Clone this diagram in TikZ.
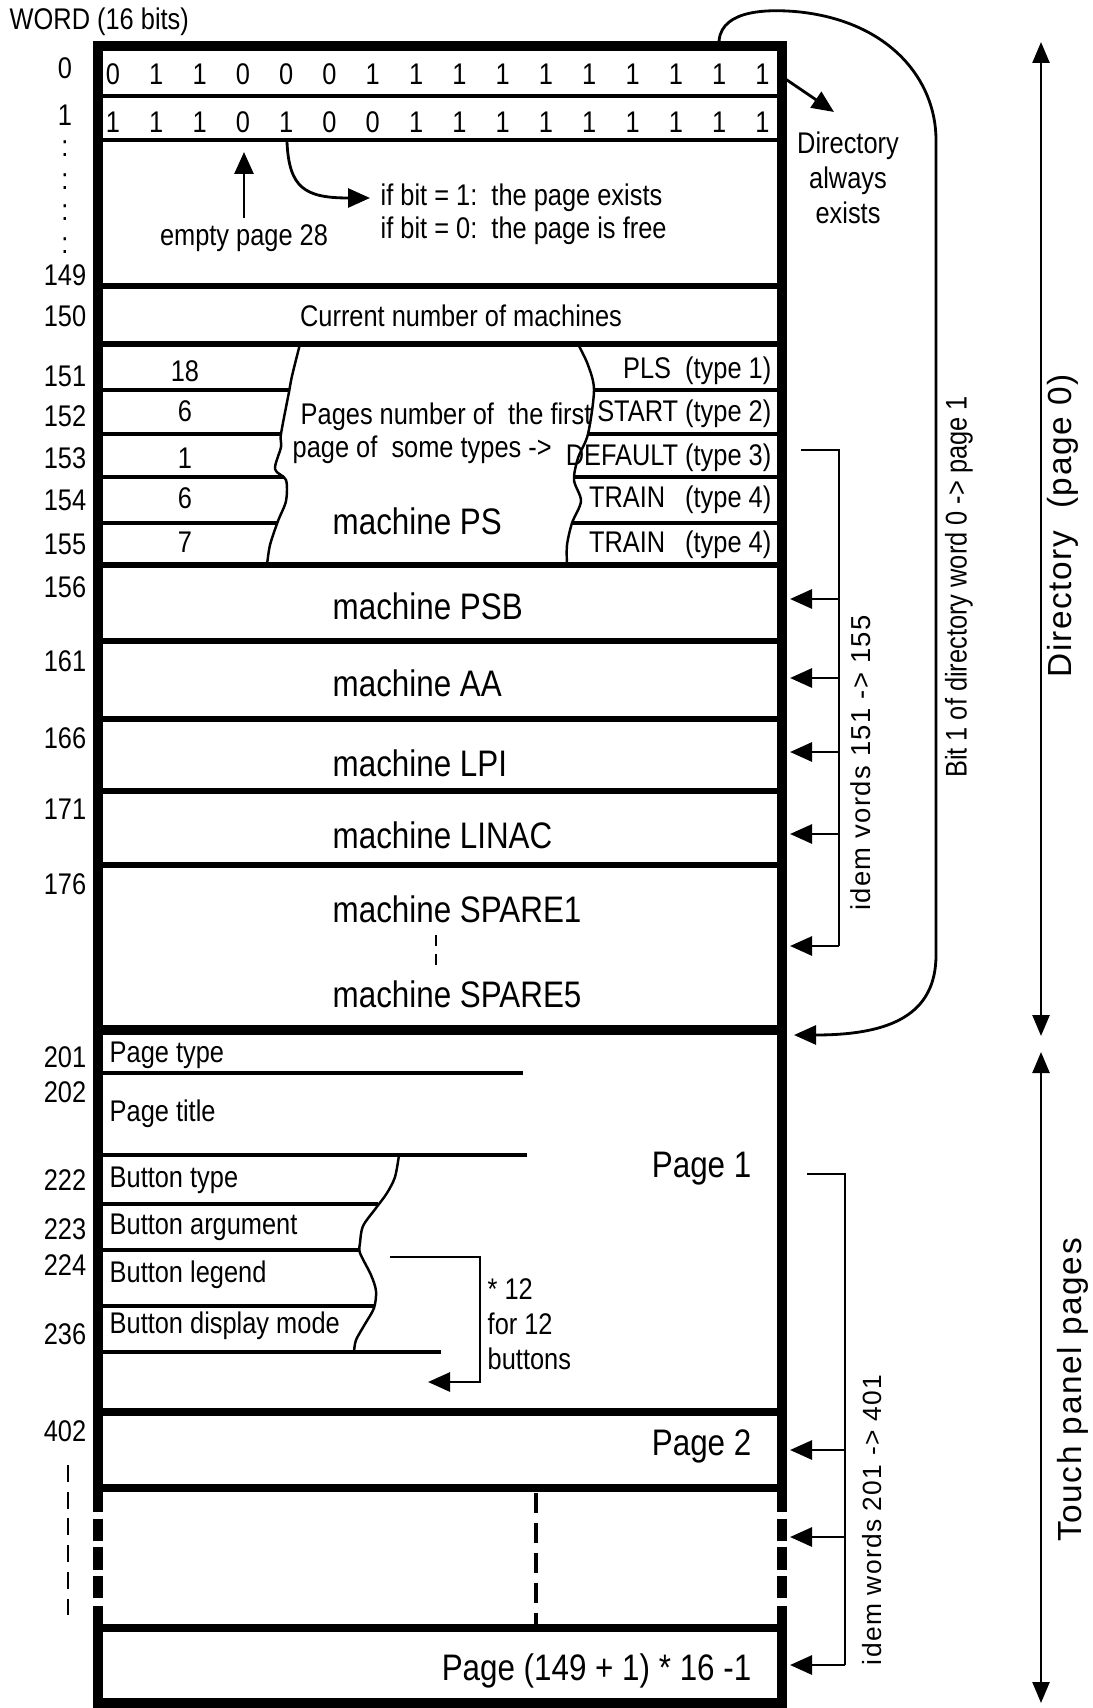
\documentclass[tikz,border=0pt]{standalone}
\usepackage{fontspec}
\setmainfont{Liberation Sans}[FakeStretch=0.85]
\newfontfamily\spacedfont{Liberation Sans}[LetterSpace=5]
\usetikzlibrary{arrows.meta, positioning, calc}

\begin{document}
\begin{tikzpicture}[x=0.1mm, y=-0.1mm, font=\fontsize{8.5}{10}\selectfont]
  \tikzstyle{outline} = [line width=2.6pt]
  \tikzstyle{rowline} = [line width=1.6pt]
  \tikzstyle{pageline} = [line width=2.4pt]
  \tikzstyle{wordline} = [line width=0.9pt]
  \tikzstyle{fieldline} = [line width=1.3pt]
  \tikzstyle{celltext} = [inner sep=0pt]
  \tikzstyle{bigtext} = [inner sep=0pt, font=\fontsize{10.5}{12}\selectfont]
  \tikzstyle{sidetext} = [inner sep=0pt, rotate=90]
  \tikzstyle{tornedge} = [line width=0.7pt]
  \tikzstyle{bracket} = [line width=0.8pt]
  \tikzstyle{arrow} = [line width=0.8pt, -{Triangle[length=2.2mm, width=1.9mm]}]
  \tikzstyle{spanarrow} = [line width=0.7pt, {Triangle[length=2.1mm, width=1.7mm]}-{Triangle[length=2.1mm, width=1.7mm]}]

  \useasboundingbox (0,0) rectangle (1092,1708);

  \node[celltext, anchor=west] (wordhdr) at (9,22) {WORD (16 bits)};

  % outer frame, broken in the dashed part
  \draw[outline] (98,1512) -- (98,46) -- (782,46) -- (782,1512);
  \draw[outline] (98,1606) -- (98,1703) -- (782,1703) -- (782,1606);
  \draw[outline, dash pattern=on 6.3pt off 1.8pt] (98,1519) -- (98,1600);
  \draw[outline, dash pattern=on 6.3pt off 1.8pt] (782,1519) -- (782,1600);

  % separators
  \draw[wordline] (98,96) -- (782,96);
  \draw[wordline] (98,140) -- (782,140);
  \foreach \y in {286,344,565,641,719,791,865}
    \draw[rowline] (98,\y) -- (782,\y);
  \draw[line width=3pt] (98,1030) -- (782,1030);
  \foreach \y in {1412,1488,1628}
    \draw[pageline] (98,\y) -- (782,\y);
  \draw[line width=1pt, dash pattern=on 5.7pt off 2.8pt] (536,1493) -- (536,1624);

  % word numbers
  \foreach \n/\y in {0/68,1/115,149/275,150/316,151/376,152/416,153/458,154/500,155/544,156/587,161/661,166/738,171/809,176/884,201/1057,202/1092,222/1180,223/1229,224/1265,236/1334,402/1431}
    \node[celltext] (w\n) at (65,\y) {\n};
  \foreach \y [count=\k] in {149,182,213,246}
    \node[celltext] (dots\k) at (65,\y) {:};
  \draw[line width=0.8pt, dash pattern=on 4.8pt off 2.8pt] (68,1465) -- (68,1622);

  % directory bits
  \foreach \b [count=\i from 0] in {0,1,1,0,0,0,1,1,1,1,1,1,1,1,1,1}
    \node[celltext] (b0\i) at ({113+43.3*\i},74) {\b};
  \foreach \b [count=\i from 0] in {1,1,1,0,1,0,0,1,1,1,1,1,1,1,1,1}
    \node[celltext] (b1\i) at ({113+43.3*\i},122) {\b};

  \node[celltext] (empty) at (244,238) {empty page 28};
  \coordinate (bit13) at (244,152);
  \draw[arrow] ([yshift=0.6mm]empty.north) -- (bit13);

  \coordinate (bit14) at (287,142);
  \node[celltext, anchor=west] (ifone) at (380,198) {if bit = 1:\ \ the page exists};
  \node[celltext, anchor=west] (ifzero) at (380,231) {if bit = 0:\ \ the page is free};
  \draw[arrow] (bit14) .. controls (289,188) and (305,198) .. ([xshift=-1mm]ifone.west);

  \coordinate (w0end) at (784,78);
  \coordinate (dirtip) at (834,112);
  \node[celltext, align=center] (dirtxt) at (848,178) {Directory\\always\\exists};
  \draw[arrow] (w0end) -- (dirtip);

  % bit 1 of word 0 loops to page 1
  \coordinate (bitdir) at (719,46);
  \coordinate (page1in) at (794,1035);
  \draw[arrow] (bitdir) .. controls (717,12) and (760,8) .. (800,12)
    .. controls (890,22) and (936,80) .. (936,140) -- (936,955)
    .. controls (936,1015) and (890,1035) .. (page1in);
  \node[sidetext] (bitlbl) at (959,587) {Bit 1 of directory word 0 -> page 1};

  % extents
  \coordinate (dirtop) at (1041,42);
  \coordinate (dirbot) at (1041,1036);
  \coordinate (tptop) at (1041,1052);
  \coordinate (tpbot) at (1041,1703);
  \draw[spanarrow] (dirtop) -- (dirbot);
  \draw[spanarrow] (tptop) -- (tpbot);
  \node[sidetext, font=\spacedfont\fontsize{9.5}{11}\selectfont] (dirlbl) at (1063,526) {Directory\ \ (page 0)};
  \node[sidetext, font=\spacedfont\fontsize{9.5}{11}\selectfont] (tplbl) at (1073,1390) {Touch panel pages};

  % words 150-155
  \node[celltext] (nmach) at (461,316) {Current number of machines};
  \draw[tornedge] plot[smooth] coordinates {(300,344) (292,376) (289,392) (281,434) (281,447) (275,469) (286,480) (286,501) (278,521) (270,545) (267,565)};
  \draw[tornedge] plot[smooth] coordinates {(578,344) (588,365) (594,390) (588,434) (578,458) (574,480) (581,501) (572,523) (567,545) (567,565)};
  \foreach \y/\x in {390/289, 434/281, 477/284, 523/277}
    \draw[wordline] (98,\y) -- (\x,\y);
  \foreach \y/\x in {390/594, 434/588, 477/575, 523/572}
    \draw[wordline] (\x,\y) -- (782,\y);
  \foreach \v/\y [count=\k] in {18/371, 6/411, 1/458, 6/498, 7/542}
    \node[celltext] (pg\k) at (185,\y) {\v};
  \node[celltext, anchor=east] (pls) at (772,371) {PLS\ \ (type 1)};
  \node[celltext, anchor=east] (start) at (772,414) {START (type 2)};
  \node[celltext, anchor=east] (default) at (772,458) {DEFAULT (type 3)};
  \node[celltext, anchor=east] (train1) at (772,500) {TRAIN\hspace{2mm}(type 4)};
  \node[celltext, anchor=east] (train2) at (772,545) {TRAIN\hspace{2mm}(type 4)};
  \node[celltext, anchor=west] (firstpg) at (300,417) {Pages number of\ \ the first};
  \node[celltext, anchor=west] (sometypes) at (292,450) {page of\ \ some types ->};
  \node[bigtext, anchor=west] (ps) at (332,521) {machine PS};

  % other machines
  \node[bigtext, anchor=west] (psb) at (332,606) {machine PSB};
  \node[bigtext, anchor=west] (aa) at (332,683) {machine AA};
  \node[bigtext, anchor=west] (lpi) at (332,763) {machine LPI};
  \node[bigtext, anchor=west] (linac) at (332,835) {machine LINAC};
  \node[bigtext, anchor=west] (spare1) at (332,909) {machine SPARE1};
  \node[bigtext, anchor=west] (spare5) at (332,994) {machine SPARE5};
  \draw[line width=0.7pt, dash pattern=on 3.2pt off 2.2pt] (436,935) -- (436,970);

  \coordinate (idem1) at (801,450);
  \draw[bracket] (idem1) -- (839,450) -- (839,946);
  \foreach \y [count=\k] in {599,678,752,834,946} {
    \coordinate (t\k) at (839,\y);
    \coordinate (m\k) at (790,\y);
    \draw[arrow] (t\k) -- (m\k);
  }
  \node[sidetext, font=\spacedfont\fontsize{7.8}{9}\selectfont] (idemlbl1) at (861,763) {idem vords 151 -> 155};

  % page 1
  \node[celltext, anchor=west] (ptype) at (109,1055) {Page type};
  \draw[fieldline] (98,1073) -- (523,1073);
  \node[celltext, anchor=west] (ptitle) at (109,1114) {Page title};
  \draw[fieldline] (98,1155) -- (527,1155);
  \node[celltext, anchor=west] (btype) at (109,1180) {Button type};
  \draw[fieldline] (98,1204) -- (378,1204);
  \node[celltext, anchor=west] (barg) at (109,1227) {Button argument};
  \draw[fieldline] (98,1250) -- (360,1250);
  \node[celltext, anchor=west] (blegend) at (109,1275) {Button legend};
  \draw[fieldline] (98,1306) -- (375,1306);
  \node[celltext, anchor=west] (bmode) at (109,1326) {Button display mode};
  \draw[fieldline] (98,1352) -- (441,1352);
  \draw[tornedge] plot[smooth] coordinates {(399,1155) (395,1177) (387,1193) (376,1208) (363,1226) (360,1243) (360,1253) (371,1275) (376,1291) (374,1308) (365,1324) (356,1340) (354,1352)};

  \coordinate (rep) at (390,1257);
  \coordinate (repend) at (428,1382);
  \draw[arrow] (rep) -- (480,1257) -- (480,1382) -- (repend);
  \node[celltext, anchor=west, align=left] (x12) at (487,1324) {* 12\\for 12\\buttons};

  \node[bigtext, anchor=east] (page1) at (752,1169) {Page 1};
  \node[bigtext, anchor=east] (page2) at (752,1446) {Page 2};
  \node[bigtext, anchor=east] (pagen) at (752,1671) {Page (149 + 1) * 16 -1};

  \coordinate (idem2) at (807,1174);
  \draw[bracket] (idem2) -- (845,1174) -- (845,1665);
  \foreach \y [count=\k] in {1450,1537,1665} {
    \coordinate (u\k) at (845,\y);
    \coordinate (p\k) at (790,\y);
    \draw[arrow] (u\k) -- (p\k);
  }
  \node[sidetext, font=\spacedfont\fontsize{7.5}{9}\selectfont] (idemlbl2) at (872,1520) {idem words 201 -> 401};
\end{tikzpicture}
\end{document}
